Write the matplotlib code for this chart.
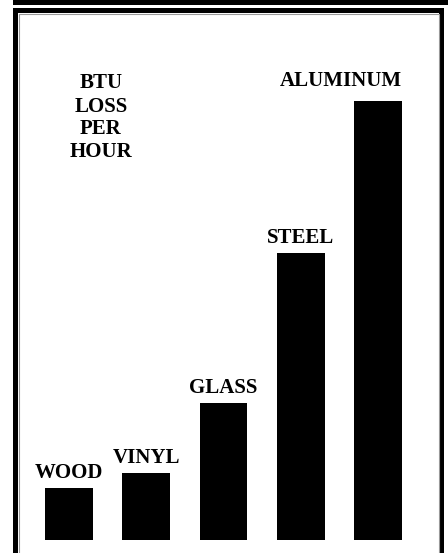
import matplotlib
matplotlib.use("Agg")
import matplotlib.pyplot as plt
from matplotlib.patches import Rectangle

# relative heat loss per hour
materials = ["WOOD", "VINYL", "GLASS", "STEEL", "ALUMINUM"]
btu_loss = [52, 67, 137, 287, 439]

W, H = 448, 553
BAR_W = 0.62
plt.rcParams['font.family'] = ['Liberation Serif', 'DejaVu Serif']

fig = plt.figure(figsize=(W / 100, H / 100), dpi=100)
fig.patch.set_facecolor("white")

# frame drawn in pixel space
frame = fig.add_axes([0, 0, 1, 1])
frame.set_xlim(0, W)
frame.set_ylim(H, 0)
frame.axis("off")
frame.add_patch(Rectangle((13, 0), W - 13, 5, color="black", lw=0))
frame.add_patch(Rectangle((13, 8), 5, H - 8, color="black", lw=0))
frame.add_patch(Rectangle((13, 8), 431, 5, color="black", lw=0))
frame.add_patch(Rectangle((439, 8), 5, H - 8, color="black", lw=0))
frame.plot([18.5, 18.5, 438.5, 438.5], [H, 13.5, 13.5, H], color="#999999", lw=0.8)

# bar chart
ax = fig.add_axes([30.4 / W, 13 / H, 386.2 / W, 500 / H])
ax.set_facecolor("none")
x = range(len(materials))
ax.bar(x, btu_loss, width=BAR_W, color="black")
ax.set_xlim(-0.5, 4.5)
ax.set_ylim(0, 500)
ax.axis("off")

for i, (name, v) in enumerate(zip(materials, btu_loss)):
    if name == "ALUMINUM":
        # too wide to centre, so it lines up with the bar's right edge
        ax.annotate(name, (i + BAR_W / 2, v), xytext=(0, 11), textcoords="offset points",
                    ha="right", va="baseline", fontsize=15, fontweight="bold")
    else:
        ax.annotate(name, (i, v), xytext=(0, 7.5), textcoords="offset points",
                    ha="center", va="baseline", fontsize=15, fontweight="bold")

for line, yb in zip(["BTU", "LOSS", "PER", "HOUR"], [88, 112, 134, 157]):
    frame.text(101, yb, line, ha="center", va="baseline", fontsize=15, fontweight="bold")

fig.savefig("out.png", dpi=100)
